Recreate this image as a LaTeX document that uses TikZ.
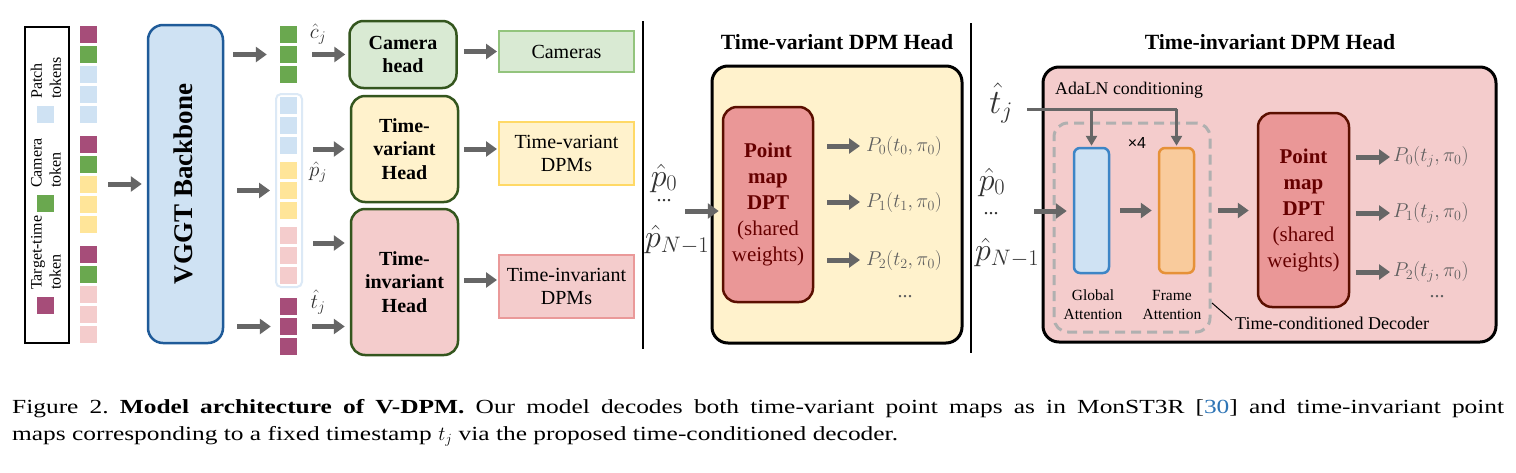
\RequirePackage{fix-cm}
\documentclass[tikz,border=0pt]{standalone}
\usepackage[no-math]{fontspec}
\setmainfont{Liberation Serif}
\setsansfont{Liberation Sans}
\newfontfamily\capfont[FakeStretch=1.27]{Liberation Serif}
\usetikzlibrary{arrows.meta}
\newcommand\myfs[2]{\fontsize{#1}{#2}\selectfont}
\definecolor{purp}{HTML}{A64D79}
\definecolor{grn}{HTML}{6AA84F}
\definecolor{lblue}{HTML}{CFE2F3}
\definecolor{yel}{HTML}{FFE599}
\definecolor{lpink}{HTML}{F4CCCC}
\definecolor{camfill}{HTML}{D9EAD3}
\definecolor{tvfill}{HTML}{FFF2CC}
\definecolor{tifill}{HTML}{F4CCCC}
\definecolor{headB}{HTML}{34561E}
\definecolor{camB}{HTML}{93C47D}
\definecolor{tvB}{HTML}{FFD966}
\definecolor{tiB}{HTML}{EA9999}
\definecolor{vggtB}{HTML}{1F5B99}
\definecolor{dptfill}{HTML}{EA9797}
\definecolor{dptB}{HTML}{5B0F00}
\definecolor{dptT}{HTML}{660000}
\definecolor{gattB}{HTML}{3D85C6}
\definecolor{fattfill}{HTML}{F9CB9C}
\definecolor{fattB}{HTML}{E69138}
\definecolor{arrgray}{HTML}{666666}
\definecolor{dashgray}{HTML}{B0B0B0}
\definecolor{plgray}{HTML}{5E5E5E}
\definecolor{mathgray}{HTML}{333333}
\definecolor{citeblue}{HTML}{2E75B6}
\definecolor{pcolB}{HTML}{DCE9F6}
\begin{document}
\begin{tikzpicture}[x=1pt,y=-1pt,
  tok/.style={minimum size=17pt, inner sep=0pt, draw=none},
  arr/.style={draw=arrgray, line width=5pt, -{Triangle[length=11pt,width=15pt]}},
  ada/.style={draw=arrgray, line width=3pt},
  adaarr/.style={ada, -{Triangle[length=10pt,width=11pt]}},
  head/.style={draw=headB, line width=2.5pt, rounded corners=14pt, inner sep=0pt, align=center, font=\bfseries\myfs{20}{23.5}, minimum width=107pt},
  outbox/.style={line width=2pt, minimum width=135pt, inner sep=0pt, align=center, font=\myfs{20}{23}},
  dptbox/.style={fill=dptfill, draw=dptB, line width=2.5pt, rounded corners=14pt, align=center, text=dptT, inner sep=0pt, font=\myfs{21}{26}},
  bigbox/.style={draw=black, line width=3pt, rounded corners=16pt, inner sep=0pt},
  mlbl/.style={inner sep=0pt, text=mathgray},
  plbl/.style={inner sep=0pt, anchor=west, text=plgray, font=\myfs{20}{24}},
  legtxt/.style={rotate=90, anchor=west, inner sep=0pt, align=left, font=\myfs{16}{19}},
  title/.style={inner sep=0pt, font=\bfseries\myfs{21.7}{26}},
  attn/.style={line width=2.5pt, rounded corners=6pt, minimum width=35pt, minimum height=125pt, inner sep=0pt},
  attlbl/.style={inner sep=0pt, align=center, font=\myfs{15.5}{19}}
]
\useasboundingbox (0,0) rectangle (1516,472);
\fill[white] (0,0) rectangle (1516,472);

% ---------- legend ----------
\node[draw, line width=1.5pt, minimum width=44pt, minimum height=316pt, inner sep=0pt] (legend) at (47,185) {};
\node[tok, fill=lblue] (legP) at (45,114.5) {};
\node[tok, fill=grn] (legC) at (45,203.5) {};
\node[tok, fill=purp] (legT) at (45,305) {};
\node[legtxt] (legPt) at (46,99) {Patch\\tokens};
\node[legtxt] (legCt) at (46,188) {Camera\\token};
\node[legtxt] (legTt) at (46,290) {Target-time\\token};

% ---------- input tokens ----------
\foreach \yy/\cc [count=\i] in {26/purp,46/grn,66/lblue,86/lblue,106/lblue,136/purp,156/grn,176/yel,196/yel,216/yel,246/purp,266/grn,286/lpink,306/lpink,326/lpink}
  \node[tok, fill=\cc] (L\i) at (88.5,\yy+8.5) {};
\node[minimum width=17pt, minimum height=317pt, inner sep=0pt] (tokcol) at (88.5,184.5) {};

% ---------- VGGT ----------
\node[draw=vggtB, fill=lblue, line width=2.5pt, rounded corners=15pt, minimum width=75pt, minimum height=318pt, inner sep=0pt] (vggt) at (185.5,184) {};
\node[rotate=90, inner sep=0pt, font=\bfseries\myfs{27}{30}] (vggtlbl) at (183.5,184) {VGGT Backbone};
\draw[arr, shorten <=11pt, shorten >=5pt] (tokcol.east |- vggt) -- (vggt.west);

% ---------- output tokens ----------
\foreach \yy [count=\i] in {26,46,66}
  \node[tok, fill=grn] (ct\i) at (288.5,\yy+8.5) {};
\node[draw=pcolB, line width=2pt, rounded corners=5pt, minimum width=26pt, minimum height=193pt, inner sep=0pt] (pcol) at (289,190.5) {};
\foreach \yy/\cc [count=\i] in {97/lblue,117/lblue,137/lblue,162/yel,182/yel,202/yel,227/lpink,247/lpink,267/lpink}
  \node[tok, fill=\cc] (pt\i) at (288.5,\yy+8.5) {};
\foreach \yy [count=\i] in {298,318,338}
  \node[tok, fill=purp] (tt\i) at (288.5,\yy+8.5) {};

\node[mlbl, font=\myfs{21}{24}] (cj) at (318,34) {$\hat{c}_j$};
\node[mlbl, font=\myfs{21}{24}] (pj) at (318,172) {$\hat{p}_j$};
\node[mlbl, font=\myfs{21}{24}] (tj) at (318,302) {$\hat{t}_j$};

\draw[arr, shorten <=9pt, shorten >=13pt] (vggt.east |- ct2) -- (ct2.west);
\draw[arr, shorten <=13pt, shorten >=5pt] (vggt.east |- pcol) -- (pcol.west);
\draw[arr, shorten <=13pt, shorten >=9pt] (vggt.east |- tt2) -- (tt2.west);

% ---------- heads ----------
\node[head, fill=camfill, minimum height=67pt] (camhead) at (403,54.5) {Camera\\head};
\node[head, fill=tvfill, minimum height=106pt] (tvhead) at (404.5,149) {Time-\\variant\\Head};
\node[head, fill=tifill, minimum height=146pt] (tihead) at (404.5,282) {Time-\\invariant\\Head};

\coordinate (tiu) at (330,243);
\draw[arr, shorten <=15pt, shorten >=3pt] (ct2.east) -- (ct2.east -| camhead.west);
\draw[arr, shorten <=10pt, shorten >=5pt] (pcol.east |- tvhead) -- (tvhead.west);
\draw[arr, shorten <=10pt, shorten >=5pt] (pcol.east |- tiu) -- (tiu -| tihead.west);
\draw[arr, shorten <=15pt, shorten >=5pt] (tt2.east) -- (tt2.east -| tihead.west);

% ---------- outputs ----------
\node[outbox, draw=camB, fill=camfill, minimum height=41pt] (cams) at (566.5,51.5) {Cameras};
\node[outbox, draw=tvB, fill=tvfill, minimum height=63pt] (tvout) at (566.5,153.5) {Time-variant\\DPMs};
\node[outbox, draw=tiB, fill=tifill, minimum height=63pt] (tiout) at (566.5,286.5) {Time-invariant\\DPMs};

\draw[arr, shorten <=6pt, shorten >=1pt] (camhead.east |- cams) -- (cams.west);
\draw[arr, shorten <=5pt, shorten >=1pt] (tvhead.east) -- (tvhead.east -| tvout.west);
\draw[arr, shorten <=5pt, shorten >=1pt] ([yshift=2pt]tihead.east) -- ([yshift=2pt]tihead.east -| tiout.west);

% ---------- separators ----------
\coordinate (sepA1) at (643,21);
\coordinate (sepA2) at (643,349);
\coordinate (sepB1) at (971,23);
\coordinate (sepB2) at (971,353);
\draw[line width=2pt] (sepA1) -- (sepA2);
\draw[line width=2pt] (sepB1) -- (sepB2);

% ---------- time-variant DPM head ----------
\node[title] (tvtitle) at (837,42) {Time-variant DPM Head};
\node[bigbox, fill=tvfill, minimum width=250pt, minimum height=277pt] (tvbig) at (837,204.5) {};
\node[dptbox, minimum width=90pt, minimum height=195pt] (dpt1) at (768,204.5) {\textbf{Point}\\\textbf{map}\\\textbf{DPT}\\(shared\\weights)};
\node[mlbl, font=\myfs{32}{34}] (p0a) at (664,178) {$\hat{p}_0$};
\node[mlbl, font=\myfs{20}{20}] (dotsa) at (664,201) {\smash{...}};
\node[mlbl, font=\myfs{32}{34}, anchor=west] (pNa) at (645,240) {$\hat{p}_{N-1}$};
\coordinate (ina) at (685,211);
\draw[arr, shorten >=3pt] (ina) -- (ina -| dpt1.west);
\node[plbl] (P0a) at (866,146) {$P_0(t_0, \pi_0)$};
\node[plbl] (P1a) at (866,202) {$P_1(t_1, \pi_0)$};
\node[plbl] (P2a) at (866,260) {$P_2(t_2, \pi_0)$};
\node[inner sep=0pt, text=plgray, font=\myfs{20}{20}] (dotsb) at (905,297) {...};
\draw[arr, shorten <=13pt, shorten >=6pt] (P0a.west -| dpt1.east) -- (P0a.west);
\draw[arr, shorten <=13pt, shorten >=6pt] (P1a.west -| dpt1.east) -- (P1a.west);
\draw[arr, shorten <=13pt, shorten >=6pt] (P2a.west -| dpt1.east) -- (P2a.west);

% ---------- time-invariant DPM head ----------
\node[title] (tititle) at (1270,42) {Time-invariant DPM Head};
\node[bigbox, fill=tifill, minimum width=453pt, minimum height=275pt] (tibig) at (1269.5,204.5) {};
\node[inner sep=0pt, anchor=west, font=\myfs{17.8}{20}] (adaln) at (1055,90) {AdaLN conditioning};
\node[draw=dashgray, line width=3pt, dash pattern=on 10pt off 6pt, rounded corners=14pt, minimum width=156pt, minimum height=209pt, inner sep=0pt] (dec) at (1132,227.5) {};
\node[attn, draw=gattB, fill=lblue] (glob) at (1091.5,210.5) {};
\node[attn, draw=fattB, fill=fattfill] (frame) at (1176.5,210.5) {};
\node[inner sep=0pt, font=\sffamily\myfs{16}{18}] (x4) at (1137,143) {×4};
\node[attlbl] (globl) at (1093,304.5) {Global\\Attention};
\node[attlbl] (framel) at (1172,304.5) {Frame\\Attention};
\node[mlbl, font=\myfs{34}{36}] (tjb) at (1001,103) {$\hat{t}_j$};
\coordinate (adaA) at (1027,109);
\draw[ada] (adaA) -- (adaA -| frame.north);
\draw[adaarr, shorten >=1pt] (adaA -| glob.north) -- (glob.north);
\draw[adaarr, shorten >=1pt] (adaA -| frame.north) -- (frame.north);
\node[mlbl, font=\myfs{32}{34}] (p0b) at (992,182) {$\hat{p}_0$};
\node[mlbl, font=\myfs{20}{20}] (dotsc) at (991,214) {\smash{...}};
\node[mlbl, font=\myfs{32}{34}, anchor=west] (pNb) at (975,253) {$\hat{p}_{N-1}$};
\coordinate (inb) at (1034,211);
\draw[arr, shorten >=6pt] (inb) -- (inb -| glob.west);
\draw[arr, shorten <=10pt, shorten >=6pt] (glob.east) -- (frame.west);
\node[dptbox, minimum width=91pt, minimum height=194pt] (dpt2) at (1303.5,210) {\textbf{Point}\\\textbf{map}\\\textbf{DPT}\\(shared\\weights)};
\draw[arr, shorten <=23pt, shorten >=8pt] (frame.east) -- (frame.east -| dpt2.west);
\node[plbl] (P0b) at (1393,157) {$P_0(t_j, \pi_0)$};
\node[plbl] (P1b) at (1393,213) {$P_1(t_j, \pi_0)$};
\node[plbl] (P2b) at (1393,272) {$P_2(t_j, \pi_0)$};
\node[inner sep=0pt, text=plgray, font=\myfs{20}{20}] (dotsd) at (1437,297) {...};
\draw[arr, shorten <=6pt, shorten >=3pt] (P0b.west -| dpt2.east) -- (P0b.west);
\draw[arr, shorten <=6pt, shorten >=3pt] (P1b.west -| dpt2.east) -- (P1b.west);
\draw[arr, shorten <=6pt, shorten >=3pt] (P2b.west -| dpt2.east) -- (P2b.west);
\node[inner sep=0pt, anchor=west, font=\myfs{18}{20}] (tcd) at (1235,323) {Time-conditioned Decoder};
\coordinate (ptrA) at (1212,303);
\draw[line width=1pt, shorten >=4pt] (ptrA) -- (tcd.west);

% ---------- caption ----------
\node[anchor=north west, inner sep=0pt, text width=1492pt, align=justify, font=\capfont\myfs{20}{27}\frenchspacing] (caption) at (12,399)
{Figure 2. \textbf{Model architecture of V-DPM.} Our model decodes both time-variant point maps as in MonST3R [\textcolor{citeblue}{30}] and time-invariant point\linebreak maps corresponding to a fixed timestamp $t_j$ via the proposed time-conditioned decoder.};
\end{tikzpicture}
\end{document}
